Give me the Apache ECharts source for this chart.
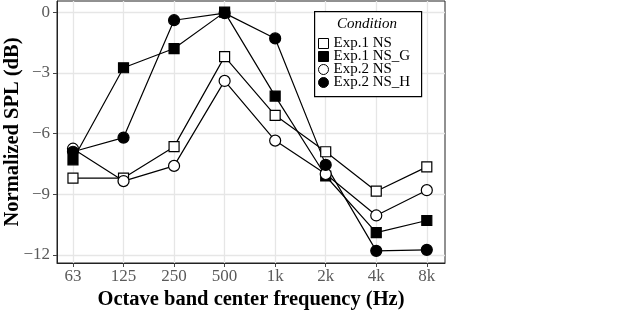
<!DOCTYPE html>
<html>
<head>
<meta charset="utf-8">
<script src="https://cdn.jsdelivr.net/npm/echarts@6/dist/echarts.min.js"></script>
<style>
html, body { margin: 0; padding: 0; background: #fff; }
#chart { width: 640px; height: 325px; }
</style>
</head>
<body>
<div id="chart"></div>
<script>
// octave bands
var bands = ['63', '125', '250', '500', '1k', '2k', '4k', '8k'];
var yTicks = [-12, -9, -6, -3, 0];

// normalized SPL (dB) per condition
var exp1NS  = [-8.2, -8.2, -6.65, -2.2, -5.1, -6.9, -8.85, -7.65];
var exp1NSG = [-7.3, -2.75, -1.8, 0, -4.15, -8.1, -10.9, -10.3];
var exp2NS  = [-6.75, -8.35, -7.6, -3.4, -6.35, -8.0, -10.05, -8.8];
var exp2NSH = [-6.9, -6.2, -0.4, -0.05, -1.3, -7.55, -11.8, -11.75];

var names = ['Exp.1 NS', 'Exp.1 NS_G', 'Exp.2 NS', 'Exp.2 NS_H'];

var serif = '"Liberation Serif", "DejaVu Serif", serif';
var chart = echarts.init(document.getElementById('chart'));

function pts(arr) {
	return arr.map(function (v, i) { return [i, v]; });
}

function mkSeries(name, data, symbol, filled) {
	return {
		name: name,
		type: 'line',
		data: pts(data),
		symbol: symbol,
		symbolSize: symbol === 'rect' ? 10 : 11,
		lineStyle: { color: '#000', width: 1.2 },
		itemStyle: {
			color: filled ? '#000' : '#fff',
			borderColor: '#000',
			borderWidth: 1.2
		},
		emphasis: { disabled: true },
		animation: false
	};
}

chart.setOption({
	animation: false,
	grid: {
		left: 57, top: 1, width: 388, height: 262,
		outerBoundsMode: 'none',
		show: true, borderColor: '#222', borderWidth: 1
	},
	legend: {
		orient: 'vertical',
		left: 318, top: 36,
		z: 20,
		itemWidth: 10, itemHeight: 10,
		itemGap: -2,
		padding: 0,
		textStyle: { fontFamily: serif, fontSize: 15, color: '#000', lineHeight: 13 },
		data: [
			{ name: names[0], icon: 'rect', itemStyle: { color: '#fff', borderColor: '#000', borderWidth: 1 } },
			{ name: names[1], icon: 'rect', itemStyle: { color: '#000', borderColor: '#000', borderWidth: 1 } },
			{ name: names[2], icon: 'circle', itemStyle: { color: '#fff', borderColor: '#000', borderWidth: 1 } },
			{ name: names[3], icon: 'circle', itemStyle: { color: '#000', borderColor: '#000', borderWidth: 1 } }
		],
		selectedMode: false
	},
	graphic: [
		{
			type: 'rect', left: 314, top: 11, z: 10,
			shape: { width: 107, height: 85 },
			style: { fill: '#fff', stroke: '#000', lineWidth: 1.2 }
		},
		{
			type: 'text', left: 337, top: 17, z: 11,
			style: { text: 'Condition', font: 'italic 15px ' + serif, fill: '#000' }
		}
	],
	xAxis: {
		type: 'value',
		min: -0.316, max: 7.36,
		axisLine: { show: true, onZero: false, lineStyle: { color: '#222', width: 1 } },
		axisTick: { show: true, length: 4, customValues: [0, 1, 2, 3, 4, 5, 6, 7], lineStyle: { color: '#444' } },
		axisLabel: {
			customValues: [0, 1, 2, 3, 4, 5, 6, 7],
			formatter: function (v) { return bands[Math.round(v)]; },
			fontFamily: serif, fontSize: 17, color: '#5a5a5a', margin: 5
		},
		splitLine: { show: true, lineStyle: { color: '#e6e6e6', width: 1.3 } },
		name: 'Octave band center frequency (Hz)',
		nameLocation: 'middle',
		nameGap: 26,
		nameMoveOverlap: false,
		nameTextStyle: { fontFamily: serif, fontSize: 20.5, fontWeight: 'bold', color: '#000' }
	},
	yAxis: {
		type: 'value',
		min: -12.4, max: 0.55,
		axisLine: { show: true, onZero: false, lineStyle: { color: '#222', width: 1 } },
		axisTick: { show: true, length: 4, customValues: yTicks, lineStyle: { color: '#444' } },
		axisLabel: {
			customValues: yTicks,
			formatter: function (v) { return String(v).replace('-', '\u2212'); },
			fontFamily: serif, fontSize: 17, color: '#5a5a5a', margin: 7
		},
		splitLine: { show: true, lineStyle: { color: '#e6e6e6', width: 1.3 } },
		name: 'Normalized SPL (dB)',
		nameLocation: 'middle',
		nameGap: 34,
		nameMoveOverlap: false,
		nameTextStyle: { fontFamily: serif, fontSize: 20.5, fontWeight: 'bold', color: '#000' }
	},
	series: [
		mkSeries(names[0], exp1NS, 'rect', false),
		mkSeries(names[1], exp1NSG, 'rect', true),
		mkSeries(names[2], exp2NS, 'circle', false),
		mkSeries(names[3], exp2NSH, 'circle', true)
	]
});
</script>
</body>
</html>
